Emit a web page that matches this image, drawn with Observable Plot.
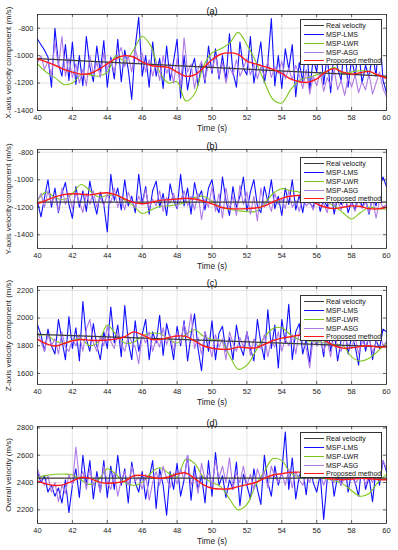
<!DOCTYPE html>
<html><head><meta charset="utf-8">
<script src="https://cdn.jsdelivr.net/npm/d3@7"></script>
<script src="https://cdn.jsdelivr.net/npm/@observablehq/plot@0.6"></script>
<style>
body{margin:0;background:#fff;font-family:"Liberation Sans",Arial,sans-serif;}
#root{position:relative;width:398px;height:550px;overflow:hidden;background:#fff;}
.panel{position:absolute;left:0;}
.legend{position:absolute;left:300px;width:82px;height:46px;background:#fff;border:0.8px solid #333;box-sizing:border-box;font-size:7px;color:#111;}
.legend .row{position:absolute;left:0;height:9px;}
.legend .sw{position:absolute;left:3px;width:20px;top:4px;}
.legend .lb{position:absolute;left:25px;top:0;white-space:nowrap;line-height:9px;}
</style></head><body><div id="root"></div><script>
// ---- shared axes ----
const xTicks = [40,42,44,46,48,50,52,54,56,58,60];
const tSlow = d3.range(0, 41).map(i => 40 + i*0.5);   // smooth series sampling
const tFast = d3.range(0, 101).map(i => 40 + i*0.2);  // noisy series sampling
const seriesNames = ["Real velocity","MSP-LMS","MSP-LWR","MSP-ASG","Proposed method"];
const titles = ["(a)","(b)","(c)","(d)"];
const xLabel = "Time (s)";
const yLabels = ["X-axis velocity component (m/s)","Y-axis velocity component (m/s)","Z-axis velocity component (m/s)","Overall velocity (m/s)"];
const yTicksA = [-1400,-1200,-1000,-800];
const yTicksB = [-1400,-1200,-1000,-800];
const yTicksC = [1600,1800,2000,2200];
const yTicksD = [2200,2400,2600,2800];

// ---- panel (a) X-axis ----
const realA = [-1022,-1150];   // at t=40 and t=60
const lwrA = [-1060,-1120,-1160,-1210,-1200,-1140,-1140,-1150,-1120,-1000,-1040,-960,-860,-930,-1120,-1200,-1190,-1330,-1280,-1080,-980,-950,-910,-830,-920,-1040,-1190,-1320,-1345,-1250,-1180,-1160,-1140,-1120,-1085,-1130,-1120,-1110,-1115,-1140,-1160];
const propA = [-1023,-1045,-1070,-1100,-1120,-1135,-1130,-1100,-1060,-1020,-1000,-1010,-1045,-1072,-1080,-1085,-1120,-1150,-1140,-1090,-1030,-990,-980,-990,-1040,-1060,-1080,-1100,-1130,-1170,-1190,-1195,-1170,-1120,-1095,-1120,-1135,-1125,-1115,-1140,-1165];
const lmsA = [-880,-920,-960,-1010,-1230,-800,-1060,-1150,-920,-1180,-900,-1210,-1000,-1220,-860,-1080,-1190,-930,-1120,-890,-1230,-1010,-1170,-880,-1190,-960,-1100,-1320,-940,-720,-1150,-1000,-1230,-900,-1150,-1020,-1240,-930,-1180,-1040,-880,-1310,-1000,-1250,-1100,-1020,-1220,-1060,-1200,-930,-1130,-950,-1170,-1000,-1180,-840,-1120,-1230,-900,-1090,-1140,-860,-1200,-1050,-900,-1200,-1050,-730,-1220,-1000,-1240,-950,-1100,-920,-1300,-1050,-1190,-870,-1250,-1020,-1120,-880,-1210,-1000,-1270,-950,-1090,-1180,-900,-1230,-1020,-1150,-950,-1200,-1070,-1160,-980,-1150,-820,-1180,-1270];
const asgA = [-1050,-1000,-1100,-1040,-1150,-900,-1080,-860,-1150,-1020,-1160,-1060,-1200,-1100,-1220,-1000,-1130,-1050,-1160,-980,-1100,-1030,-1120,-1000,-940,-1080,-1000,-1120,-950,-1050,-980,-1120,-1030,-1150,-1050,-1180,-1000,-1130,-1060,-1200,-1020,-1230,-870,-1120,-1060,-1240,-1100,-1040,-1180,-1060,-1110,-1000,-1150,-1050,-1200,-1080,-1140,-1030,-1150,-1090,-1020,-1140,-1060,-1170,-1080,-1150,-1040,-1160,-1080,-1130,-1040,-1170,-1090,-1180,-1070,-1140,-1240,-1100,-1280,-1150,-1220,-1120,-1260,-1160,-1220,-1100,-1250,-1180,-1290,-1160,-1230,-1140,-1270,-1190,-1250,-1130,-1280,-1200,-1120,-1240,-1300];

// ---- panel (b) Y-axis ----
const realB = [-1163,-1163];
const lwrB = [-1150,-1090,-1130,-1145,-1100,-1035,-1080,-1125,-1115,-1110,-1150,-1190,-1245,-1220,-1195,-1190,-1180,-1165,-1130,-1120,-1155,-1200,-1215,-1225,-1232,-1230,-1175,-1100,-1065,-1080,-1090,-1140,-1150,-1160,-1190,-1240,-1285,-1240,-1200,-1210,-1215];
const propB = [-1175,-1150,-1125,-1108,-1102,-1105,-1110,-1100,-1095,-1110,-1140,-1165,-1175,-1165,-1150,-1145,-1140,-1135,-1140,-1155,-1175,-1200,-1210,-1212,-1210,-1205,-1190,-1160,-1135,-1120,-1115,-1140,-1175,-1200,-1210,-1200,-1190,-1195,-1210,-1212,-1200];
const lmsB = [-1160,-1270,-1130,-1000,-1200,-1060,-1240,-1100,-1020,-1180,-1280,-1050,-1200,-1080,-1230,-1010,-1150,-1250,-1090,-1180,-1380,-960,-1150,-1060,-1220,-1000,-1190,-1120,-1240,-960,-1170,-1050,-1250,-1080,-1010,-1200,-1100,-1260,-1030,-1150,-1210,-960,-1190,-1060,-1250,-1020,-1140,-1080,-1220,-1060,-1000,-1180,-1240,-980,-1150,-1260,-1050,-1200,-1120,-980,-1230,-1090,-1000,-1190,-1240,-1050,-1160,-1000,-1210,-1120,-1260,-1060,-1180,-1000,-1220,-1110,-1240,-1080,-1170,-1200,-1090,-1230,-1140,-1200,-1060,-1250,-1130,-1180,-1100,-1240,-1160,-1220,-1080,-1200,-1140,-1250,-1120,-1190,-1060,-980,-1050];
const asgB = [-1150,-1100,-1200,-1080,-1170,-1120,-1230,-1060,-1180,-1100,-1210,-1090,-1160,-1240,-1100,-1180,-1080,-1200,-1130,-1190,-1100,-1170,-1060,-1200,-1130,-1220,-1090,-1160,-1200,-1120,-1180,-1070,-1210,-1140,-1190,-1080,-1230,-1130,-1170,-1100,-1200,-1150,-1080,-1190,-1120,-1220,-1100,-1290,-1140,-1200,-1050,-1230,-1100,-1280,-1060,-1210,-1120,-1260,-1040,-1180,-1090,-1250,-1120,-1300,-1060,-1200,-1150,-1230,-1100,-1180,-1140,-1210,-1080,-1200,-1150,-1230,-1120,-1190,-1160,-1220,-1130,-1200,-1170,-1240,-1110,-1190,-1150,-1220,-1130,-1200,-1170,-1230,-1140,-1210,-1160,-1240,-1130,-1280,-1150,-1200,-1180];

// ---- panel (c) Z-axis ----
const realC = [1882,1792];
const lwrC = [1870,1880,1835,1820,1840,1850,1800,1830,1950,1880,1820,1825,1870,1890,1888,1850,1820,1880,1915,1870,1845,1840,1730,1630,1660,1760,1860,1925,1930,1880,1845,1835,1830,1820,1810,1800,1720,1690,1710,1760,1820];
const propC = [1846,1815,1798,1815,1835,1845,1840,1838,1842,1848,1865,1900,1880,1848,1845,1858,1870,1868,1835,1800,1782,1775,1775,1790,1785,1785,1810,1838,1855,1865,1876,1875,1865,1835,1800,1783,1785,1795,1800,1790,1795];
const lmsC = [1950,1880,1760,1920,1800,1740,1990,1840,1700,2010,1780,1930,1690,2120,1850,1760,1960,1800,1700,1900,1780,2080,1820,1950,1720,2090,1830,1700,1980,1760,1880,1990,1700,1900,1820,2020,1730,1960,1850,1700,1940,1800,1980,1690,1880,2030,1780,1620,1900,1760,1980,1700,1890,1940,1760,1860,1700,1950,1800,1730,1900,1780,1690,1990,1820,1700,2060,1780,1950,1640,1990,1820,2100,1700,1900,1960,1740,1850,1680,1940,1800,1880,1720,1980,1760,1900,1690,1840,1950,1740,1870,1800,1660,1920,1760,1880,1700,1840,1780,1920,1900];
const asgC = [1900,1830,1760,1880,1800,1850,1740,1900,1790,1760,1850,1800,1880,1760,1920,1990,1820,1760,1870,1800,1940,1830,1780,1900,1810,1760,1870,1830,1790,1670,1880,1820,1900,1760,1850,1790,1930,1810,1880,1760,1900,1820,1960,1860,2030,1780,1860,1740,1900,1820,1720,1880,1790,1850,1700,1900,1820,1760,1860,1790,1900,1730,1850,1800,1780,1880,1720,1840,1790,1900,1760,1850,1800,1880,1740,1900,1820,1780,1640,1860,1800,1870,1760,1840,1720,1890,1800,1760,1850,1810,1780,1870,1740,1830,1800,1860,1750,1820,1900,1800,1830];

// ---- panel (d) overall ----
const realD = [2432,2432];
const lwrD = [2440,2452,2460,2462,2455,2420,2385,2420,2500,2460,2400,2378,2400,2470,2508,2470,2440,2570,2540,2440,2400,2370,2280,2200,2240,2380,2480,2575,2560,2470,2440,2440,2435,2428,2415,2390,2340,2300,2320,2400,2460];
const propD = [2410,2390,2378,2385,2410,2438,2430,2405,2395,2398,2410,2448,2452,2440,2430,2440,2462,2470,2430,2385,2358,2352,2354,2370,2385,2400,2430,2455,2465,2474,2476,2472,2455,2435,2425,2420,2425,2430,2428,2422,2420];
const lmsD = [2470,2400,2450,2330,2380,2300,2360,2250,2420,2180,2380,2500,2290,2600,2380,2560,2280,2480,2330,2560,2290,2520,2350,2600,2380,2500,2250,2550,2400,2330,2480,2280,2430,2560,2210,2500,2380,2160,2480,2350,2540,2300,2420,2600,2270,2520,2350,2450,2250,2560,2300,2620,2380,2450,2290,2420,2350,2550,2230,2460,2380,2280,2500,2350,2240,2600,2400,2300,2520,2380,2480,2770,2350,2580,2280,2450,2500,2310,2550,2400,2330,2460,2130,2420,2520,2300,2450,2380,2560,2330,2480,2400,2300,2550,2350,2440,2260,2500,2380,2560,2480];
const asgD = [2500,2420,2380,2450,2330,2400,2260,2380,2320,2460,2380,2660,2420,2480,2350,2500,2380,2440,2330,2520,2400,2350,2470,2300,2420,2480,2380,2520,2410,2440,2350,2460,2270,2400,2480,2380,2520,2430,2360,2470,2390,2500,2420,2600,2380,2460,2320,2540,2420,2470,2380,2560,2430,2520,2400,2580,2360,2470,2400,2520,2380,2460,2350,2500,2420,2480,2360,2520,2440,2400,2470,2380,2500,2360,2480,2420,2380,2460,2400,2500,2430,2470,2380,2450,2420,2400,2480,2380,2440,2420,2460,2390,2430,2480,2380,2450,2400,2470,2420,2560,2500];

// ---- styles ----
const colors = {real:"#3a3a3a", lms:"#1010ff", lwr:"#7dc71c", asg:"#b07ae6", prop:"#ff1a1a"};
const legendColors = [colors.real, colors.lms, colors.lwr, colors.asg, colors.prop];

const panels = [
  {top:0,   h:137, mt:14, mb:27, domain:[-1400,-700], ticks:yTicksA, real:realA, lwr:lwrA, prop:propA, lms:lmsA, asg:asgA, legTop:19},
  {top:137, h:137, mt:12, mb:26, domain:[-1500,-780], ticks:yTicksB, real:realB, lwr:lwrB, prop:propB, lms:lmsB, asg:asgB, legTop:157},
  {top:274, h:138, mt:12, mb:28, domain:[1520,2228],  ticks:yTicksC, real:realC, lwr:lwrC, prop:propC, lms:lmsC, asg:asgC, legTop:295},
  {top:412, h:138, mt:14, mb:27, domain:[2100,2810],  ticks:yTicksD, real:realD, lwr:lwrD, prop:propD, lms:lmsD, asg:asgD, legTop:432}
];

const root = document.getElementById("root");
const ML = 37, MR = 12, W = 398;
const FONT = "'Liberation Sans', Arial, sans-serif";

panels.forEach((p, k) => {
  const ph = p.h - p.mt - p.mb, pw = W - ML - MR;
  const chart = Plot.plot({
    width: W, height: p.h, marginLeft: ML, marginRight: MR, marginTop: p.mt, marginBottom: p.mb,
    style: {fontFamily: FONT, fontSize: "7.5px", color: "#262626", background: "transparent", overflow: "visible"},
    x: {domain: [40, 60]},
    y: {domain: p.domain},
    marks: [
      Plot.gridX(xTicks, {stroke: "#000", strokeOpacity: 0.11}),
      Plot.gridY(p.ticks, {stroke: "#000", strokeOpacity: 0.11}),
      Plot.axisX(xTicks, {tickSize: 0, tickPadding: 4, label: null, fontSize: 7.5, fill: "#262626"}),
      Plot.axisY(p.ticks, {tickSize: 0, tickPadding: 4, label: null, fontSize: 7.5, fill: "#262626", tickFormat: d => String(d)}),
      Plot.line(p.lms, {x: (d, i) => tFast[i], y: d => d, stroke: colors.lms, strokeWidth: 1.1}),
      Plot.line(p.lwr, {x: (d, i) => tSlow[i], y: d => d, stroke: colors.lwr, strokeWidth: 1.1, curve: "catmull-rom"}),
      Plot.line(p.asg, {x: (d, i) => tFast[i], y: d => d, stroke: colors.asg, strokeWidth: 1.1}),
      Plot.line(p.real, {x: (d, i) => [40, 60][i], y: d => d, stroke: colors.real, strokeWidth: 1.3}),
      Plot.line(p.prop, {x: (d, i) => tSlow[i], y: d => d, stroke: colors.prop, strokeWidth: 1.4, curve: "catmull-rom"}),
      Plot.tickX(xTicks, {x: d => d, stroke: "#262626", strokeWidth: 0.7, insetTop: ph - 3}),
      Plot.tickX(xTicks, {x: d => d, stroke: "#262626", strokeWidth: 0.7, insetBottom: ph - 3}),
      Plot.tickY(p.ticks, {y: d => d, stroke: "#262626", strokeWidth: 0.7, insetRight: pw - 3}),
      Plot.tickY(p.ticks, {y: d => d, stroke: "#262626", strokeWidth: 0.7, insetLeft: pw - 3}),
      Plot.frame({stroke: "#262626", strokeWidth: 0.8}),
      Plot.text([titles[k]], {text: d => d, frameAnchor: "top", lineAnchor: "bottom", dy: -1, fontSize: 9, fill: "#000"}),
      Plot.text([xLabel], {text: d => d, frameAnchor: "bottom", lineAnchor: "middle", dy: 18, fontSize: 8.3, fill: "#262626"}),
      Plot.text([yLabels[k]], {text: d => d, frameAnchor: "left", rotate: -90, textAnchor: "middle", lineAnchor: "middle", dx: -29.5, fontSize: 7.9, fill: "#262626"})
    ]
  });
  chart.classList.add("panel");
  chart.style.top = p.top + "px";
  root.appendChild(chart);

  const leg = document.createElement("div");
  leg.className = "legend";
  leg.style.top = p.legTop + "px";
  seriesNames.forEach((name, j) => {
    const row = document.createElement("div");
    row.className = "row";
    row.style.top = (1.2 + 8.8 * j) + "px";
    row.style.width = "80px";
    const sw = document.createElement("div");
    sw.className = "sw";
    sw.style.borderTop = (j === 4 ? 1.5 : 1.2) + "px solid " + legendColors[j];
    const lb = document.createElement("div");
    lb.className = "lb";
    lb.textContent = name;
    row.appendChild(sw); row.appendChild(lb);
    leg.appendChild(row);
  });
  root.appendChild(leg);
});
</script></body></html>
